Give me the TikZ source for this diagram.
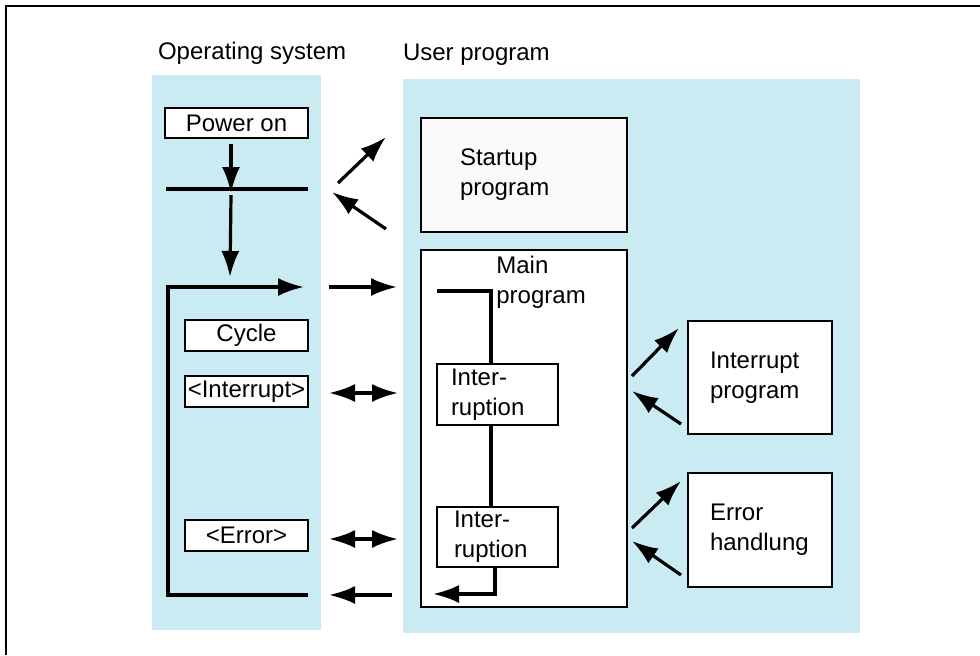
\documentclass[tikz,border=0pt]{standalone}
\usepackage{fontspec}
\setmainfont{Liberation Sans}
\usetikzlibrary{arrows.meta,positioning}
\definecolor{panelblue}{RGB}{203,235,242}
\definecolor{offwhite}{RGB}{250,250,250}

\begin{document}
\begin{tikzpicture}[x=0.5pt,y=-0.5pt,
  every node/.style={font=\fontsize{12}{15}\selectfont},
  box/.style={draw,line width=0.8pt,fill=white,inner sep=0pt},
  flow/.style={line width=1.6pt},
  tip/.style={-{Latex[length=13pt,width=9pt]}},
  both/.style={{Latex[length=13pt,width=9pt]}-{Latex[length=13pt,width=9pt]}}]
\useasboundingbox (0,0) rectangle (980,655);
% Frame
\draw[line width=1pt] (6,655) -- (6,6) -- (980,6);

% Panels
\fill[panelblue] (152,75) rectangle (321,630);
\fill[panelblue] (403,79) rectangle (860,633);
\node[anchor=west] (ostitle) at (151,53) {Operating system};
\node[anchor=west] (uptitle) at (396,55) {User program};

% Operating system
\node[box,minimum width=71.5pt,minimum height=15pt] (power) at (236.5,123) {Power on};
\coordinate (barl) at (166,189);
\coordinate (barr) at (308,189);
\coordinate (barc) at (231,189);
\draw[flow] (barl) -- (barr);
\draw[flow,tip] (power.south -| barc) ++(0,5) -- ([yshift=-2pt]barc);
\coordinate (loopin) at (230,277);
\draw[flow,tip] ([yshift=-3pt]barc) -- (loopin);
\node[box,minimum width=61.5pt,minimum height=15.5pt] (cycle) at (246.5,335.5) {Cycle};
\node[box,minimum width=61.5pt,minimum height=15.5pt] (osint) at (246.5,391.5) {<Interrupt>};
\node[box,minimum width=61.5pt,minimum height=15.5pt] (oserr) at (246.5,535.5) {<Error>};
\coordinate (looptop) at (304,287);
\coordinate (loopbot) at (308,595);
\draw[flow,tip] (loopbot) -- (168,595) -- (168,287) -- (looptop);

% User program
\node[box,fill=offwhite,minimum width=103pt,minimum height=57pt,
  align=left,text width=64pt,inner xsep=19.5pt] (startup) at (524,175) {Startup\\program};
\node[box,minimum width=103pt,minimum height=178.5pt] (main) at (524,428.5) {};
\node[anchor=north west,align=left,inner sep=0pt] (maintitle) at (496,256) {Main\\program};
\node[box,minimum width=60.5pt,minimum height=30.5pt,
  align=left,text width=46.5pt,inner xsep=7pt] (irpt1) at (497.5,394.5) {Inter-\\ruption};
\node[box,minimum width=60.5pt,minimum height=30pt,
  align=left,text width=43.5pt,inner xsep=8.5pt] (irpt2) at (497.5,537) {Inter-\\ruption};
\coordinate (mainstart) at (437,291);
\coordinate (mainline) at (491,291);
\draw[flow] (mainstart) -- (mainline) -- (mainline |- irpt1.north);
\draw[flow] (mainline |- irpt1.south) -- (mainline |- irpt2.north);
\coordinate (retcorner) at (495,594);
\coordinate (retend) at (433,594);
\draw[flow,tip] (retcorner |- irpt2.south) -- (retcorner) -- (retend);
\node[box,minimum width=72pt,minimum height=56.5pt,
  align=left,text width=50pt,inner xsep=11pt] (intprog) at (760,377.5) {Interrupt\\program};
\node[box,minimum width=72pt,minimum height=57pt,
  align=left,text width=50pt,inner xsep=11pt] (errprog) at (760,530) {Error\\handlung};

% Calls between operating system and user program
\draw[flow,tip] (338,183) -- (386,137);
\draw[flow,tip] (386,229) -- (332,192);
\draw[flow,tip] (329,287) -- (397,287);
\draw[flow,both] (329,393) -- (398,393);
\draw[flow,both] (329,539) -- (398,539);
\draw[flow,tip] (392,595) -- (329,595);

% Calls to interrupt and error programs
\draw[flow,tip] (632,376) -- (679,328);
\draw[flow,tip] (681,424) -- (632,391);
\draw[flow,tip] (632,528) -- (681,481);
\draw[flow,tip] (681,575) -- (632,541);
\end{tikzpicture}
\end{document}
